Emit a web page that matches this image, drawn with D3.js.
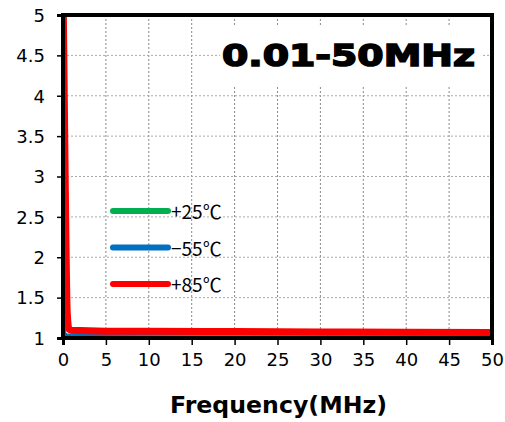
<!DOCTYPE html>
<html>
<head>
<meta charset="utf-8">
<script src="https://cdn.jsdelivr.net/npm/d3@7"></script>
<style>
body { margin: 0; background: #fff; }
</style>
</head>
<body>
<svg width="505" height="422"></svg>
<script>
var width = 505;
var height = 422;
var margin = {top: 15, right: 13, bottom: 84, left: 63};

// data
const xTicks = [0, 5, 10, 15, 20, 25, 30, 35, 40, 45, 50];
const yTicks = [1, 1.5, 2, 2.5, 3, 3.5, 4, 4.5, 5];
const seriesNames = ["+25\u2103", "\u221255\u2103", "+85\u2103"];
const seriesColors = ["#00b050", "#0070c0", "#ff0000"];

const green25 = [[0.01, 1.04], [0.5, 1.03], [1, 1.03], [5, 1.035], [10, 1.035], [20, 1.035], [30, 1.035], [40, 1.035], [50, 1.035]];
const blue55 = [[0.01, 1.25], [0.2, 1.05], [0.6, 1.02], [1, 1.03], [5, 1.05], [10, 1.06], [20, 1.07], [30, 1.075], [40, 1.08], [50, 1.085]];
const red85 = [[0.01, 5.3], [0.2, 3.5], [0.5, 1.3], [0.7, 1.11], [1, 1.095], [5, 1.085], [10, 1.085], [20, 1.08], [30, 1.075], [40, 1.07], [50, 1.068]];

const allSeries = [green25, blue55, red85];

var svg = d3.select("svg");
var w = width - margin.left - margin.right;
var h = height - margin.top - margin.bottom;

const xs = d3.scaleLinear().domain([0, 50]).range([0, w]);
const ys = d3.scaleLinear().domain([1, 5]).range([h, 0]);

var g = svg.append("g").attr("transform", "translate(" + margin.left + "," + margin.top + ")");

// grid
g.append("g").selectAll("line").data(xTicks.slice(1, -1)).join("line")
    .attr("x1", d => xs(d)).attr("x2", d => xs(d))
    .attr("y1", 0).attr("y2", h)
    .attr("stroke", "#888").attr("stroke-width", 1).attr("stroke-dasharray", "2,2");
g.append("g").selectAll("line").data(yTicks.slice(1, -1)).join("line")
    .attr("x1", 0).attr("x2", w)
    .attr("y1", d => ys(d)).attr("y2", d => ys(d))
    .attr("stroke", "#aaa").attr("stroke-width", 1).attr("stroke-dasharray", "2,2");

// title box
g.append("rect").attr("x", 157).attr("y", 12).attr("width", 263).attr("height", 58).attr("fill", "#fff");
g.append("text")
    .attr("x", 159).attr("y", 51)
    .attr("textLength", 253)
    .attr("lengthAdjust", "spacingAndGlyphs")
    .style("font-family", "'DejaVu Sans', sans-serif")
    .style("font-weight", "bold")
    .style("font-size", "31px")
    .attr("stroke", "#000").attr("stroke-width", 1.6)
    .text("0.01-50MHz");

// lines
g.append("clipPath").attr("id", "clip").append("rect").attr("x", 0).attr("y", 0).attr("width", w).attr("height", h);

const line = d3.line()
    .x(d => xs(d[0]))
    .y(d => ys(d[1]))
    .curve(d3.curveMonotoneX);

var widths = [4, 4, 7];
g.append("g").attr("clip-path", "url(#clip)")
    .selectAll("path").data(allSeries).join("path")
    .attr("fill", "none")
    .attr("stroke", (d, i) => seriesColors[i])
    .attr("stroke-width", (d, i) => widths[i])
    .attr("stroke-linejoin", "round")
    .attr("d", line);

// frame
g.append("rect").attr("x", 0).attr("y", 0).attr("width", w).attr("height", h)
    .attr("fill", "none").attr("stroke", "#000").attr("stroke-width", 4);

// axes
var yAxis = g.append("g")
    .call(d3.axisLeft(ys).tickValues(yTicks).tickSize(6).tickFormat(d3.format("")));
var xAxis = g.append("g").attr("transform", "translate(0," + h + ")")
    .call(d3.axisBottom(xs).tickValues(xTicks).tickSize(7));
[xAxis, yAxis].forEach(a => {
    a.select(".domain").attr("stroke-width", 3);
    a.selectAll(".tick line").attr("stroke-width", 1.5);
    a.selectAll("text")
        .style("font-family", "'DejaVu Sans', sans-serif")
        .style("font-size", "18px")
        .attr("fill", "#000");
});
yAxis.selectAll("text").attr("x", -18).attr("dy", "0.35em");
xAxis.selectAll("text").attr("y", 15);

// legend
var legend = g.append("g").selectAll("g").data(seriesNames).join("g")
    .attr("transform", (d, i) => "translate(50," + (196 + i * 36.5) + ")");
legend.append("line")
    .attr("x1", 0).attr("x2", 55)
    .attr("stroke", (d, i) => seriesColors[i])
    .attr("stroke-width", 6)
    .attr("stroke-linecap", "round");
legend.append("text")
    .attr("x", 58).attr("y", 8)
    .style("font-family", "'Noto Sans CJK JP', sans-serif")
    .style("font-size", "19px")
    .text(d => d);

// axis title
svg.append("text")
    .attr("x", 170).attr("y", 413)
    .attr("textLength", 217)
    .attr("lengthAdjust", "spacingAndGlyphs")
    .style("font-family", "'DejaVu Sans', sans-serif")
    .style("font-weight", "bold")
    .style("font-size", "23px")
    .text("Frequency(MHz)");
</script>
</body>
</html>
